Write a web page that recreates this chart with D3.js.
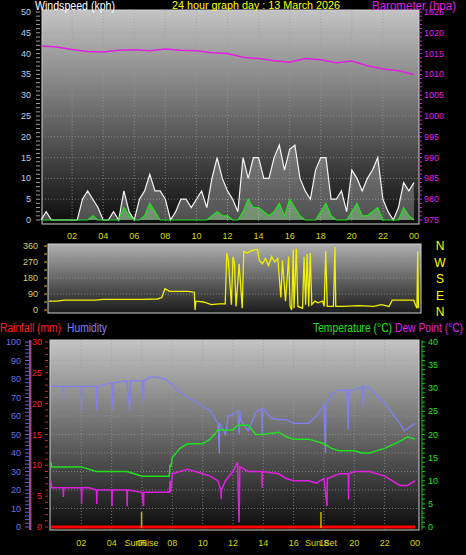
<!DOCTYPE html>
<html><head><meta charset="utf-8">
<script src="https://cdn.jsdelivr.net/npm/d3@7"></script>
<style>body{margin:0;background:#000}text{font-family:"Liberation Sans",Arial,sans-serif}</style>
</head><body>
<script>
// wind: 20 minute steps
var gust = [0,2,0, 0,0,0, 0,0,5, 7,5,3, 0,0,2, 0,7,2, 0,5,7, 11,7,7, 5,0,2, 5,5,3, 5,7,3, 10,15,10,
  7,5,2, 15,10,15, 15,10,10, 15,18,12, 17,18,10, 7,5,12, 15,15,5, 5,7,2, 12,10,7, 10,12,15, 5,2,0, 3,9,7, 9];
var avgWind = [0,0,0, 0,0,0, 0,0,0, 0,1,0, 0,0,0, 0,3,1, 0,0,1, 4,2,0, 0,0,0, 0,0,0, 0,0,0, 1,2,1,
  1,0,0, 2,5,3, 3,2,1, 2,4,1, 5,3,1, 0,0,0, 2,4,1, 0,0,0, 2,4,1, 1,2,3, 0,0,0, 0,3,1, 0];
var baro = [1016.8,1016.6,1016,1015.5,1015.4,1015.8,1015.9,1015.7,1016.1,1015.8,1015.7,1015.2,1015,
  1014.1,1013.8,1013.3,1012.9,1013.8,1013.5,1012.8,1013.2,1012.1,1011.3,1010.9,1010];
var dirHours = [0,0.5,1,2,3,3.5,5,6,7,7.3,7.5,7.8,9,9.4,9.45,9.5,10,10.5,11,11.4,11.5,11.6,11.8,11.9,12,12.1,12.3,12.5,12.6,12.8,13,13.3,13.5,13.6,13.8,14,14.2,14.4,14.6,14.8,15,15.1,15.3,15.5,15.6,15.7,15.8,15.85,16,16.1,16.4,16.5,16.6,16.7,16.8,16.9,17,17.2,17.4,17.7,17.8,17.9,18,18.4,18.5,18.55,19,20,21,21.5,22,22.2,23,23.6,23.7,23.8,23.85,23.9];
var dirValues = [50,50,55,55,55,60,60,60,62,70,120,105,105,100,0,50,45,30,35,35,320,280,30,300,260,20,260,10,330,320,330,340,340,280,260,290,250,300,270,290,70,280,50,300,20,0,340,10,345,20,10,300,30,315,20,320,30,50,40,50,20,330,20,20,355,20,20,25,20,30,20,55,55,55,30,10,330,10];
var humHours = [0,0.8,0.82,0.84,2,2.02,2.04,3,3.02,3.04,3.5,4,4.1,4.12,4.14,5,5.2,5.22,5.24,6,6.1,6.12,6.14,6.5,7,7.5,8,8.5,9,9.5,10,10.5,11,11.1,11.12,11.14,11.5,11.7,12,12.3,12.4,12.45,12.5,13,13.5,13.9,13.92,13.94,14,14.5,15,15.5,16,17,17.5,18,18.1,18.12,18.14,18.5,19,19.5,19.6,19.62,19.64,20,20.5,20.6,20.62,20.64,21,22,23,23.3,24];
var humValues = [76,76,68,76,76,63,76,76,63,76,77,78,63,78,78,79,63,79,79,79,67,79,79,81,81,80,77,73,70,68,65,63,56,40,56,56,50,60,61,63,50,63,58,52,62,64,50,64,64,59,58,58,56,56,60,66,40,66,66,72,74,74,53,74,74,74,76,65,76,76,75,67,56,52,56];
var tempHours = [0,0.05,1,2,3,4,5,5.5,6,7,7.8,7.85,7.9,8,8.5,9,10,10.5,11,12,12.3,13,13.5,14,15,15.5,16,17,18,18.5,19,20,20.5,21,22,23,23.5,24];
var tempValues = [14,13,13,13,12,12,12,11.5,11,11,11,13.5,13,15,17,18,18,19,21,21,22,22,20,20,20.5,19.5,19,19,18,17,16.5,16.5,16,16,17,18.5,19.5,19];
var dewHours = [0,0.05,0.8,0.82,0.84,2,2.02,2.04,2.5,3,3.02,3.04,3.5,4,4.02,4.04,5,5.02,5.04,6,6.1,6.12,6.14,7,7.8,7.85,7.9,8,9,9.5,10,10.5,11,11.2,11.22,11.24,11.5,12,12.3,12.4,12.45,12.5,13,13.9,13.92,13.94,15,15.5,16,17,17.5,18,18.2,18.22,18.24,19,19.6,19.62,19.64,20,21,22,23,23.5,24];
var dewValues = [10,8.5,8.5,6.5,8.5,8.5,5,8.5,8.5,8,5,8,8,8,4.5,8,8,4.5,8,7.5,4.5,7.5,7.5,7.5,7.5,10,7.5,11.5,12.5,12,11.5,11,10,8,6,8,10,12,14,1,13,13,12,12,8.5,12,11.5,10.5,10,10,9.5,10.5,4.5,10.5,10.5,11.5,11.5,6,11.5,12,12,11,9,9,10];
var rainHours = [0,24];
var rainValues = [0,0];
var hourLabels = ["02","04","06","08","10","12","14","16","18","20","22","00"];
var compass = ["N","W","S","E","N"];

var svg = d3.select("body").append("svg").attr("width", 466).attr("height", 555);
var defs = svg.append("defs");
function grad(id, top, bottom) {
  var g = defs.append("linearGradient").attr("id", id).attr("x1", 0).attr("y1", 0).attr("x2", 0).attr("y2", 1);
  g.append("stop").attr("offset", 0).attr("stop-color", top);
  g.append("stop").attr("offset", 1).attr("stop-color", bottom);
}
grad("g1", "#c4c4c4", "#0c0c0c");
grad("g2", "#b0b0b0", "#1a1a1a");

var yellow = "#d8d800";
function txt(x, y, s, col, size, anchor) {
  return svg.append("text").attr("x", x).attr("y", y).attr("fill", col).attr("font-size", size || 10)
    .attr("text-anchor", anchor || "start").text(s);
}
// fitted label: squeezed into a given width
function fit(x, y, s, col, size, w) {
  return txt(x, y, s, col, size).attr("textLength", w).attr("lengthAdjust", "spacingAndGlyphs");
}
function panel(x0, x1, y0, y1, id) {
  svg.append("rect").attr("x", x0).attr("y", y0).attr("width", x1 - x0).attr("height", y1 - y0)
    .attr("fill", "url(#" + id + ")").attr("stroke", "#d0d0d0").attr("stroke-width", 1);
}
function hgrid(scale, ticks, x0, x1) {
  svg.append("g").selectAll("line").data(ticks).enter().append("line")
    .attr("x1", x0).attr("x2", x1).attr("y1", function (d) { return scale(d); }).attr("y2", function (d) { return scale(d); })
    .attr("stroke", "#9a9a9a").attr("stroke-dasharray", "1,2").attr("stroke-opacity", 0.7);
}
function vgrid(scale, y0, y1) {
  svg.append("g").selectAll("line").data(d3.range(2, 24, 2)).enter().append("line")
    .attr("x1", function (d) { return scale(d); }).attr("x2", function (d) { return scale(d); })
    .attr("y1", y0).attr("y2", y1).attr("stroke", "#9a9a9a").attr("stroke-dasharray", "1,2").attr("stroke-opacity", 0.7);
}
function minor(x, ys, col, w) {
  svg.append("g").selectAll("line").data(ys).enter().append("line")
    .attr("x1", x).attr("x2", x + w).attr("y1", function (d) { return d; }).attr("y2", function (d) { return d; })
    .attr("stroke", col).attr("stroke-width", 1);
}

// ---- panel 1: wind + barometer
var x1 = d3.scaleLinear().domain([0, 24]).range([41, 414]);
var yW = d3.scaleLinear().domain([0, 50]).range([220, 12]);
var yB = d3.scaleLinear().domain([975, 1025]).range([220, 12]);
panel(42, 419, 10, 224, "g1");
hgrid(yW, d3.range(5, 50, 5), 42, 419);
vgrid(x1, 10, 224);
minor(36, d3.range(0, 51).map(yW), "#a0a0a0", 4);
minor(419, d3.range(0, 51).map(yW), "#e020e0", 3);
yW.ticks(10).forEach(function (d) { txt(31, yW(d) + 3, d, "#b8d0f0", 9, "end"); });
d3.range(975, 1026, 5).forEach(function (d) { txt(424, yB(d) + 3, d, "#e020e0", 9); });

var step20 = function (d, i) { return x1(i / 3); };
svg.append("path").datum(gust)
  .attr("d", d3.area().x(step20).y0(yW(0)).y1(function (d) { return yW(d); }))
  .attr("fill", "#e8e8e8").attr("fill-opacity", 0.3);
svg.append("path").datum(gust)
  .attr("d", d3.line().x(step20).y(function (d) { return yW(d); }))
  .attr("fill", "none").attr("stroke", "#f4f4f4").attr("stroke-width", 1.2);
svg.append("path").datum(avgWind)
  .attr("d", d3.area().x(step20).y0(yW(0)).y1(function (d) { return yW(d); }))
  .attr("fill", "#a0f0a0").attr("fill-opacity", 0.4);
svg.append("path").datum(avgWind)
  .attr("d", d3.line().x(step20).y(function (d) { return yW(d); }))
  .attr("fill", "none").attr("stroke", "#20e020").attr("stroke-width", 1.2);
svg.append("path").datum(baro)
  .attr("d", d3.line().x(function (d, i) { return x1(i); }).y(function (d) { return yB(d); }))
  .attr("fill", "none").attr("stroke", "#e020e0").attr("stroke-width", 1.5);
hourLabels.forEach(function (s, i) { txt(x1((i + 1) * 2), 239, s, yellow, 9, "middle"); });
fit(35, 10, "Windspeed (kph)", "#ffffff", 12, 80);
fit(172, 9, "24 hour graph day : 13 March 2026", "#ffff00", 11.5, 168);
fit(372, 10, "Barometer (hpa)", "#e020e0", 12, 84);

// ---- panel 2: wind direction
var x2 = d3.scaleLinear().domain([0, 24]).range([49, 420]);
var yD = d3.scaleLinear().domain([0, 360]).range([310, 246]);
panel(48, 421, 244, 313, "g2");
hgrid(yD, [90, 180, 270], 48, 421);
minor(44, d3.range(0, 361, 45).map(yD), "#c8c850", 3);
[0, 90, 180, 270, 360].forEach(function (d) { txt(38, yD(d) + 3, d, "#d0d070", 9, "end"); });
svg.append("path")
  .attr("d", d3.line().x(function (d) { return x2(d); }).y(function (d, i) { return yD(dirValues[i]); })(dirHours))
  .attr("fill", "none").attr("stroke", "#f0f000").attr("stroke-width", 1.3);
compass.forEach(function (s, i) { txt(440, 250 + i * 16.5, s, "#ffff00", 12, "middle"); });

fit(0, 332, "Rainfall (mm)", "#ff2020", 12, 61);
fit(67, 332, "Humidity", "#8080ff", 12, 40);
fit(313, 332, "Temperature (°C)", "#20e020", 12, 79);
fit(395, 332, "Dew Point (°C)", "#e020e0", 12, 68);

// ---- panel 3: temperature, humidity, dew point
var x3 = d3.scaleLinear().domain([0, 24]).range([51, 415]);
var yH = d3.scaleLinear().domain([0, 100]).range([527, 342]);
var yR = d3.scaleLinear().domain([0, 30]).range([527, 342]);
var yT = d3.scaleLinear().domain([0, 40]).range([527, 342]);
panel(50, 419, 340, 530, "g1");
hgrid(yH, d3.range(10, 100, 10), 50, 419);
vgrid(x3, 340, 530);
svg.append("line").attr("x1", 30).attr("x2", 30).attr("y1", 340).attr("y2", 530).attr("stroke", "#6060e0").attr("stroke-width", 2);
minor(25, d3.range(0, 101, 2).map(yH), "#6060e0", 4);
svg.append("line").attr("x1", 31).attr("x2", 31).attr("y1", 340).attr("y2", 530).attr("stroke", "#e02020").attr("stroke-width", 1);
minor(45, d3.range(0, 31, 1).map(yR), "#e02020", 3);
svg.append("line").attr("x1", 422).attr("x2", 422).attr("y1", 340).attr("y2", 530).attr("stroke", "#20c020").attr("stroke-width", 1);
minor(422, d3.range(0, 41, 1).map(yT), "#20c020", 3);
d3.range(0, 101, 10).forEach(function (d) { txt(21, yH(d) + 3, d, "#7070e0", 9, "end"); });
d3.range(0, 31, 5).forEach(function (d) { txt(42, yR(d) + 3, d, "#ff2020", 9, "end"); });
d3.range(0, 41, 5).forEach(function (d) { txt(428, yT(d) + 3, d, "#20e020", 9); });

function series(hours, vals, y, col, w) {
  svg.append("path")
    .attr("d", d3.line().x(function (d) { return x3(d); }).y(function (d, i) { return y(vals[i]); })(hours))
    .attr("fill", "none").attr("stroke", col).attr("stroke-width", w);
}
series(humHours, humValues, yH, "#8080f0", 1.3);
series(tempHours, tempValues, yT, "#20e020", 1.5);
series(dewHours, dewValues, yT, "#e020e0", 1.5);
series(rainHours, rainValues, yR, "#ff0000", 3);

[5.97, 17.8].forEach(function (h) {
  svg.append("line").attr("x1", x3(h)).attr("x2", x3(h)).attr("y1", 512).attr("y2", 528)
    .attr("stroke", "#c8b000").attr("stroke-width", 1.5);
});
hourLabels.forEach(function (s, i) { txt(x3((i + 1) * 2), 546, s, yellow, 9, "middle"); });
txt(x3(5.97), 546, "SunRise", yellow, 9, "middle");
txt(x3(17.8), 546, "Sun Set", yellow, 9, "middle");
</script>
</body></html>
